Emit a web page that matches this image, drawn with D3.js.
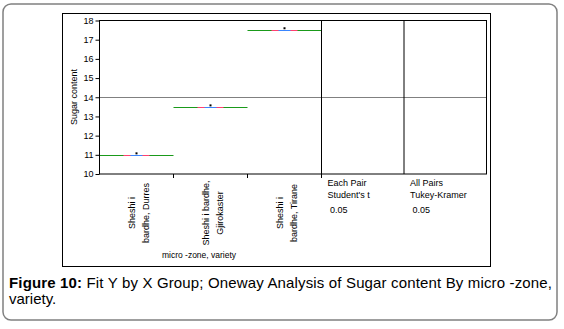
<!DOCTYPE html>
<html><head><meta charset="utf-8">
<script src="https://cdn.jsdelivr.net/npm/d3@7"></script>
<style>
body{margin:0;background:#fff;}
svg{display:block;font-family:Arial,"Liberation Sans",sans-serif;}
</style></head>
<body><svg id="c" width="564" height="329"></svg>
<script>
const groups = ["Durres", "Gjirokaster", "Tirane"];
const groupLabelLines = [["Sheshi i", "bardhe, Durres"], ["Sheshi i bardhe,", "Gjirokaster"], ["Sheshi i", "bardhe, Tirane"]];
const groupMeans = [11.0, 13.48, 17.5];
const groupPoints = [11.05, 13.55, 17.57];
const grandMean = 14.0;
const yTicks = [10, 11, 12, 13, 14, 15, 16, 17, 18];
const panelTexts = [["Each Pair", "Student's t", " 0.05"], ["All Pairs", "Tukey-Kramer", " 0.05"]];

(function () {
const svg = d3.select("#c");
// outer rounded frame
svg.append("rect").attr("x", 3).attr("y", 4).attr("width", 554).attr("height", 316)
  .attr("rx", 8).attr("fill", "none").attr("stroke", "#808080").attr("stroke-width", 1.5);
// inner figure box
svg.append("rect").attr("x", 62.5).attr("y", 13.5).attr("width", 428).attr("height", 253)
  .attr("fill", "#fff").attr("stroke", "#000").attr("stroke-width", 1);

const pLeft = 99.5, pTop = 20.5, pBottom = 174, plotRight = 321.5, pRight = 486.5;
const y = d3.scaleLinear().domain([10, 18]).range([pBottom, pTop]);
const x = d3.scaleBand().domain(groups).range([pLeft, plotRight]).padding(0);
const panelX = d3.scaleBand().domain(["each", "all"]).range([plotRight, pRight]).padding(0);

// grand mean line
const gy = Math.round(y(grandMean)) + 0.5;
svg.append("line").attr("x1", pLeft).attr("x2", pRight).attr("y1", gy).attr("y2", gy)
  .attr("stroke", "#808080").attr("stroke-width", 1);

// means
const bw = x.bandwidth();
groups.forEach((g, i) => {
  const yy = Math.round(y(groupMeans[i])) + 0.5;
  const cx = x(g) + bw / 2;
  svg.append("line").attr("x1", x(g)).attr("x2", x(g) + bw).attr("y1", yy).attr("y2", yy).attr("stroke", "#1a9a1a").attr("stroke-width", 1);
  svg.append("line").attr("x1", cx - 13).attr("x2", cx + 13).attr("y1", yy).attr("y2", yy).attr("stroke", "#ff4070").attr("stroke-width", 1);
  svg.append("line").attr("x1", cx - 6).attr("x2", cx + 6).attr("y1", yy).attr("y2", yy).attr("stroke", "#3a86ff").attr("stroke-width", 1);
  svg.append("rect").attr("x", cx - 1).attr("y", y(groupPoints[i]) - 1.5).attr("width", 2).attr("height", 2).attr("fill", "#000");
});

// frame
svg.append("rect").attr("x", pLeft).attr("y", pTop).attr("width", pRight - pLeft).attr("height", pBottom - pTop)
  .attr("fill", "none").attr("stroke", "#000").attr("stroke-width", 1);
panelX.domain().forEach(p => {
  svg.append("line").attr("x1", panelX(p)).attr("x2", panelX(p)).attr("y1", pTop).attr("y2", pBottom).attr("stroke", "#000");
});

// y axis
const yAxis = svg.append("g").attr("transform", `translate(${pLeft},0)`)
  .call(d3.axisLeft(y).tickValues(yTicks).tickSize(4).tickPadding(2).tickFormat(d3.format("d")));
yAxis.select(".domain").remove();
yAxis.selectAll("text").attr("font-size", 9).attr("font-family", "Arial, 'Liberation Sans', sans-serif").attr("fill", "#000");
yAxis.selectAll("line").attr("stroke", "#000");

// x ticks at group boundaries
groups.forEach(g => {
  const bx = x(g) + bw;
  svg.append("line").attr("x1", bx).attr("x2", bx).attr("y1", pBottom).attr("y2", pBottom + 4).attr("stroke", "#000");
});

// y label
svg.append("text").attr("transform", `translate(77,97) rotate(-90)`).attr("text-anchor", "middle")
  .attr("font-size", 9).text("Sugar content");

// x group labels
groups.forEach((g, i) => {
  const cx = x(g) + bw / 2;
  groupLabelLines[i].forEach((t, j) => {
    svg.append("text").attr("transform", `translate(${cx - 1.5 + j * 14},213) rotate(-90)`)
      .attr("text-anchor", "middle").attr("font-size", 9).text(t);
  });
});

// x axis title
svg.append("text").attr("x", 199).attr("y", 258).attr("text-anchor", "middle").attr("font-size", 8.5).text("micro -zone, variety");

// panel texts
panelX.domain().forEach((p, i) => {
  const px = panelX(p) + 6;
  const ys = [186, 198, 213];
  panelTexts[i].forEach((t, j) => {
    svg.append("text").attr("x", px).attr("y", ys[j]).attr("font-size", 9).style("white-space", "pre").text(t);
  });
});

// caption
const cap = svg.append("text").attr("x", 9).attr("y", 288).attr("font-size", 15)
  .attr("textLength", 543).attr("lengthAdjust", "spacing").attr("fill", "#000");
cap.append("tspan").attr("font-weight", "bold").text("Figure 10:");
cap.append("tspan").text(" Fit Y by X Group; Oneway Analysis of Sugar content By micro -zone,");
svg.append("text").attr("x", 9).attr("y", 304).attr("font-size", 15).text("variety.");
})();
</script></body></html>
